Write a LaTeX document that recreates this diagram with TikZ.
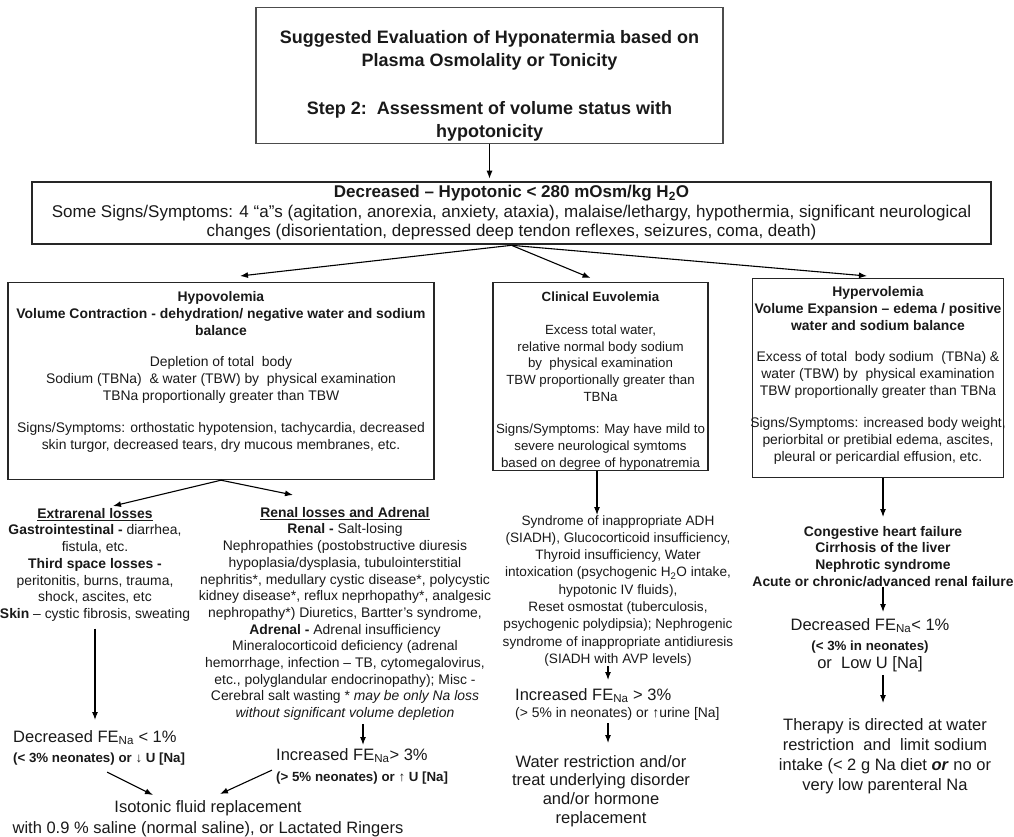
\documentclass[tikz,border=0pt]{standalone}
\usepackage{fontspec}
\setmainfont{Liberation Sans}
\usetikzlibrary{arrows.meta}
\newcommand\szsmall{\fontsize{13.9}{16.7}\selectfont}
\newcommand\szeuv{\fontsize{13.3}{16.7}\selectfont}
\newcommand\szsub{\fontsize{13.3}{16}\selectfont\bfseries}
\newcommand\szbig{\fontsize{16.5}{19}\selectfont}
\newcommand\szhead{\fontsize{17}{19.5}\selectfont}
\newcommand\sztitle{\fontsize{18}{23}\selectfont\bfseries}
\newcommand\topgap[1]{\rule{0pt}{#1}}
\newcommand\botgap[1]{\rule[-#1]{0pt}{0pt}}
\newcommand\FENa{FE\textsubscript{Na}}
\tikzset{
  >={Latex[length=8pt,width=6pt]},
}
\tikzstyle{box}=[draw=black!85,line width=1.3pt,align=center,inner sep=0pt,anchor=north]
\tikzstyle{txt}=[align=center,inner sep=0pt,anchor=north]
\tikzstyle{link}=[line width=1.1pt,->]
\tikzstyle{every node}=[font=\szsmall,text=black!90]

\begin{document}
\begin{tikzpicture}[x=1pt,y=-1pt]
    \useasboundingbox (0,0) rectangle (1014,837);
    \node[box, draw=black!70, minimum width=467, font=\sztitle] (title) at (489.5,7) {\topgap{36pt}Suggested Evaluation of Hyponatermia based on\\ Plasma Osmolality or Tonicity\\[25pt] Step 2:\ \ Assessment of volume status with\\ hypotonicity\botgap{6pt}};
    \node[box, anchor=center, line width=2.6pt, minimum width=959, minimum height=62, font=\szhead] (hypobox) at (511.5,213) {\textbf{Decreased – Hypotonic < 280 mOsm/kg H\textsubscript{2}O}\\ Some Signs/Symptoms: 4 “a”s (agitation, anorexia, anxiety, ataxia), malaise/lethargy, hypothermia, significant neurological\\ changes (disorientation, depressed deep tendon reflexes, seizures, coma, death)};
    \node[box, minimum width=426] (hypov) at (221,282) {\topgap{19pt}\textbf{Hypovolemia}\\ \textbf{Volume Contraction - dehydration/ negative water and sodium}\\ \textbf{balance}\\[15pt] Depletion of total\ \ body\\ Sodium (TBNa)\ \ \& water (TBW) by\ \ physical examination\\ TBNa proportionally greater than TBW\\[16pt] Signs/Symptoms: orthostatic hypotension, tachycardia, decreased\\ skin turgor, decreased tears, dry mucous membranes, etc.\botgap{30pt}};
    \node[box, minimum width=215, inner xsep=-2pt, font=\szeuv] (euvol) at (600.5,282) {\topgap{19pt}\textbf{Clinical Euvolemia}\\[16pt] Excess total water,\\ relative normal body sodium\\ by\ \ physical examination\\ TBW proportionally greater than\\ TBNa\\[16pt] Signs/Symptoms: May have mild to\\ severe neurological symtoms\\ based on degree of hyponatremia\botgap{3pt}};
    \node[box, minimum width=250, inner xsep=-2pt] (hyperv) at (878,278) {\topgap{18pt}\textbf{Hypervolemia}\\ \textbf{Volume Expansion – edema / positive}\\ \textbf{water and sodium balance}\\[15pt] Excess of total\ \ body sodium\ \ (TBNa) \&\\ water (TBW) by\ \ physical examination\\ TBW proportionally greater than TBNa\\[16pt] Signs/Symptoms: increased body weight,\\ periorbital or pretibial edema, ascites,\\ pleural or pericardial effusion, etc.\botgap{16pt}};
    \node[txt] (extra) at (95,508) {\underline{\textbf{Extrarenal losses}}\\ \textbf{Gastrointestinal -} diarrhea,\\ fistula, etc.\\ \textbf{Third space losses -}\\ peritonitis, burns, trauma,\\ shock, ascites, etc\\ \textbf{Skin} – cystic fibrosis, sweating};
    \node[txt] (renal) at (345,507) {\underline{\textbf{Renal losses and Adrenal}}\\ \textbf{Renal -} Salt-losing\\ Nephropathies (postobstructive diuresis\\ hypoplasia/dysplasia, tubulointerstitial\\ nephritis*, medullary cystic disease*, polycystic\\ kidney disease*, reflux neprhopathy*, analgesic\\ nephropathy*) Diuretics, Bartter’s syndrome,\\ \textbf{Adrenal -} Adrenal insufficiency\\ Mineralocorticoid deficiency (adrenal\\ hemorrhage, infection – TB, cytomegalovirus,\\ etc., polyglandular endocrinopathy); Misc -\\ Cerebral salt wasting * \textit{may be only Na loss}\\ \textit{without significant volume depletion}};
    \node[txt, font=\fontsize{13.6}{17.3}\selectfont] (euvlist) at (618,515) {Syndrome of inappropriate ADH\\ (SIADH), Glucocorticoid insufficiency,\\ Thyroid insufficiency, Water\\ intoxication (psychogenic H\textsubscript{2}O intake,\\ hypotonic IV fluids),\\ Reset osmostat (tuberculosis,\\ psychogenic polydipsia); Nephrogenic\\ syndrome of inappropriate antidiuresis\\ (SIADH with AVP levels)};
    \node[txt, font=\szsmall\bfseries] (hlist) at (883,526) {Congestive heart failure\\ Cirrhosis of the liver\\ Nephrotic syndrome\\ Acute or chronic/advanced renal failure};
    \node[txt, align=left, anchor=north west, font=\szbig] (fedec1) at (13,730) {Decreased \FENa\ < 1\%\\[1pt] {\szsub (< 3\% neonates) or ↓ U [Na]}};
    \node[txt, align=left, anchor=north west, font=\szbig] (feinc1) at (276,748) {Increased \FENa> 3\%\\[2pt] {\szsub (> 5\% neonates) or ↑ U [Na]}};
    \node[txt, align=left, anchor=north west, font=\szbig] (feinc2) at (515,688) {Increased \FENa\ > 3\%\\[-2pt] {\szsmall (> 5\% in neonates) or ↑urine [Na]}};
    \node[txt, font=\szbig] (fedec2) at (870,618) {Decreased \FENa< 1\%\\[1pt] {\szsub (< 3\% in neonates)}\\[-1pt] or\ \ Low U [Na]};
    \node[txt, font=\szbig] (iso) at (208,800) {Isotonic fluid replacement\\[2pt] with 0.9 \% saline (normal saline), or Lactated Ringers};
    \node[txt, font=\fontsize{16.5}{18.7}\selectfont] (wrest) at (601,755) {Water restriction and/or\\ treat underlying disorder\\ and/or hormone\\ replacement};
    \node[txt, font=\fontsize{16.5}{20}\selectfont] (therapy) at (885,718) {Therapy is directed at water\\ restriction\ \ and\ \ limit sodium\\ intake (< 2 g Na diet \textbf{\textit{or}} no or\\ very low parenteral Na};
    \draw[link, shorten >=2pt] (title.south) -- (title.south |- hypobox.north);
    \draw[link] (hypobox.south) -- ([xshift=19pt,yshift=6pt]hypov.north);
    \draw[link] (hypobox.south) -- ([xshift=-10pt,yshift=4pt]euvol.north);
    \draw[link] (hypobox.south) -- ([xshift=-11pt,yshift=2pt]hyperv.north);
    \draw[link] (hypov.south) -- ([xshift=18pt,yshift=2pt]extra.north);
    \draw[link] (hypov.south) -- ([xshift=-52pt,yshift=12pt]renal.north);
    \draw[link, shorten <=7pt, shorten >=10pt] (extra.south) -- (extra.south |- fedec1.north);
    \draw[link, shorten <=3pt, shorten >=3pt] ([xshift=18pt]renal.south) -- ([xshift=18pt]renal.south |- feinc1.north);
    \draw[link] ([xshift=-3.5pt]euvol.south) -- ([xshift=-3.5pt]euvol.south |- euvlist.north);
    \draw[link, shorten >=8pt] ([xshift=-10pt]euvlist.south) -- ([xshift=-10pt]euvlist.south |- feinc2.north);
    \draw[link, shorten <=3pt, shorten >=12pt] ([xshift=7pt]wrest.north |- feinc2.south) -- ([xshift=7pt]wrest.north);
    \draw[link, shorten >=9pt] ([xshift=5pt]hyperv.south) -- ([xshift=5pt]hyperv.south |- hlist.north);
    \draw[link, shorten >=6pt] (hlist.south) -- (hlist.south |- fedec2.north);
    \draw[link, shorten <=3pt, shorten >=15pt] ([xshift=13pt]fedec2.south) -- ([xshift=13pt]fedec2.south |- therapy.north);
    \draw[link] ([xshift=8pt,yshift=-7pt]fedec1.south) -- ([xshift=-55pt,yshift=5pt]iso.north);
    \draw[link] ([xshift=-4pt,yshift=14pt]feinc1.south west) -- ([xshift=12pt,yshift=6pt]iso.north);
\end{tikzpicture}
\end{document}
